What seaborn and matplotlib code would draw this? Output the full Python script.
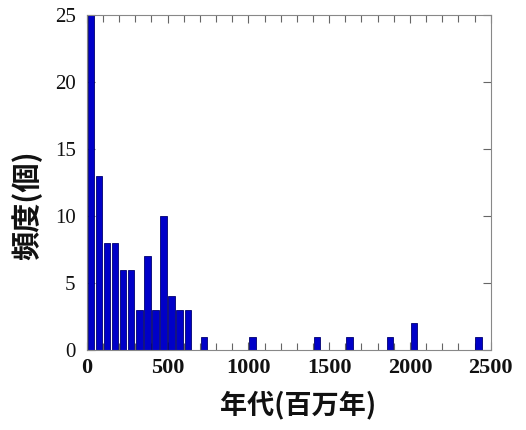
import pandas as pd
import matplotlib
matplotlib.use("Agg")
import matplotlib.pyplot as plt
from matplotlib.ticker import MultipleLocator
import seaborn as sns

# histogram data: left edge of each 50-Myr bin and its count
bin_starts = [0, 50, 100, 150, 200, 250, 300, 350, 400, 450, 500, 550, 600,
              700, 1000, 1400, 1600, 1850, 2000, 2400]
counts = [25, 13, 8, 8, 6, 6, 3, 7, 3, 10, 4, 3, 3,
          1, 1, 1, 1, 1, 2, 1]
bin_width = 50
x_max = 2500
y_max = 25

df = pd.DataFrame({'age': bin_starts, 'n': counts})

sns.set_style("ticks")
plt.rcParams['font.family'] = ['Liberation Serif', 'DejaVu Serif']

fig = plt.figure(figsize=(5.26, 4.30), dpi=100)
ax = fig.add_axes([0.165, 0.186, 0.768, 0.779])

sns.histplot(data=df, x='age', weights='n', binwidth=bin_width, binrange=(0, x_max),
             shrink=0.8, color='#0000C8', edgecolor='#000070', linewidth=0.6,
             alpha=1, ax=ax)

ax.set_xlim(0, x_max)
ax.set_ylim(0, y_max)
ax.xaxis.set_major_locator(MultipleLocator(500))
ax.xaxis.set_minor_locator(MultipleLocator(100))
ax.yaxis.set_major_locator(MultipleLocator(5))
ax.tick_params(which='both', direction='in', top=True, right=True, color='#666666',
               labelcolor='#111111')
ax.tick_params(which='major', length=6, width=0.8)
ax.tick_params(which='minor', length=5, width=0.8)
ax.tick_params(axis='y', labelsize=15, pad=8)
ax.tick_params(axis='x', labelsize=16, pad=6)
for lab in ax.get_xticklabels():
    lab.set_fontweight('bold')
for s in ax.spines.values():
    s.set_color('#888888')
    s.set_linewidth(0.8)

cjk = ['Noto Sans CJK JP', 'DejaVu Sans']
ax.set_xlabel('年代(百万年)', family=cjk, fontsize=19.5, fontweight='bold', color='#111111')
ax.set_ylabel('頻度(個)', family=cjk, fontsize=21, fontweight='bold', color='#111111')
ax.xaxis.set_label_coords(0.522, -0.122)
ax.yaxis.set_label_coords(-0.11, 0.433)

fig.savefig('out.png', dpi=100)
